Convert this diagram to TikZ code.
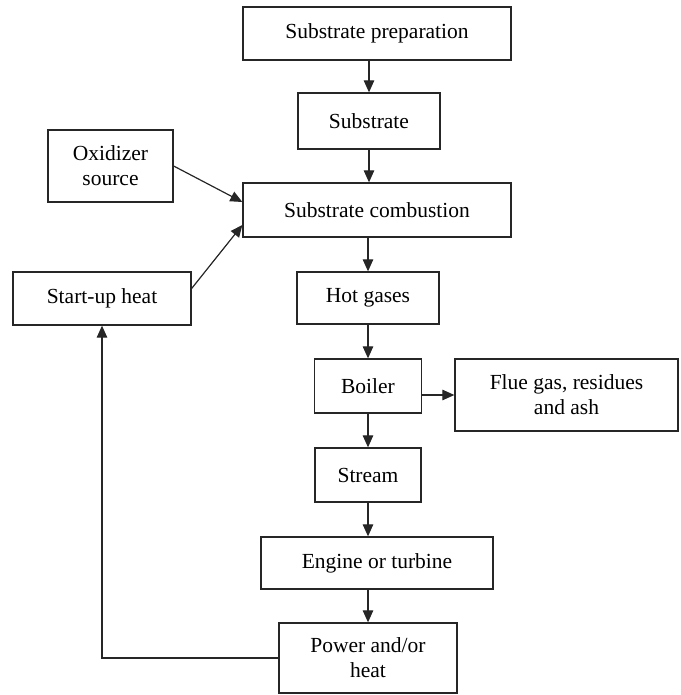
\documentclass[tikz,border=0pt]{standalone}
\usepackage{fontspec}
\setmainfont{Liberation Serif}
\usetikzlibrary{arrows.meta}
\begin{document}
\begin{tikzpicture}[x=1pt,y=-1pt,
  box/.style={draw=black!85, line width=1.3pt, inner sep=0pt, align=center,
    font=\fontsize{21.5}{25}\selectfont},
  flow/.style={draw=black!85, line width=1.2pt,
    -{Triangle[width=10.5pt,length=12pt]}}]
\useasboundingbox (0,0) rectangle (680,695);

% process boxes
\node[box, minimum width=268pt, minimum height=53pt] (prep)   at (377,33.5) {Substrate preparation};
\node[box, minimum width=142pt, minimum height=56pt] (sub)    at (369,121)  {Substrate};
\node[box, minimum width=125pt, minimum height=72pt] (ox)     at (110.5,166) {Oxidizer\\source};
\node[box, minimum width=268pt, minimum height=54pt] (comb)   at (377,210)  {Substrate combustion};
\node[box, minimum width=178pt, minimum height=53pt] (start)  at (102,298.5) {Start-up heat};
\node[box, minimum width=142pt, minimum height=52pt] (hot)    at (368,298)  {Hot gases};
\node[box, minimum width=107pt, minimum height=54pt] (boiler) at (368,386)  {Boiler};
\node[box, minimum width=223pt, minimum height=72pt] (flue)   at (566.5,395) {Flue gas, residues\\and ash};
\node[box, minimum width=106pt, minimum height=54pt] (stream) at (368,475)  {Stream};
\node[box, minimum width=232pt, minimum height=52pt] (engine) at (377,563)  {Engine or turbine};
\node[box, minimum width=178pt, minimum height=70pt] (power)  at (368,658)  {Power and/or\\heat};

% main vertical flow
\draw[flow] (prep.south -| sub.north) -- (sub.north);
\draw[flow] (sub.south) -- (sub.south |- comb.north);
\draw[flow] (comb.south -| hot.north) -- (hot.north);
\draw[flow] (hot.south) -- (hot.south |- boiler.north);
\draw[flow] (boiler.south) -- (boiler.south |- stream.north);
\draw[flow] (stream.south) -- (stream.south |- engine.north);
\draw[flow] (engine.south -| power.north) -- (power.north);

% side streams
\draw[flow] (boiler.east |- flue.west) -- (flue.west);
\draw[flow] (ox.east) -- ([yshift=8pt]comb.west);
\draw[flow] ([yshift=10pt]start.east) -- ([yshift=-15pt]comb.west);

% heat recycled to start-up
\draw[flow] (power.west) -| (start.south);
\end{tikzpicture}
\end{document}
